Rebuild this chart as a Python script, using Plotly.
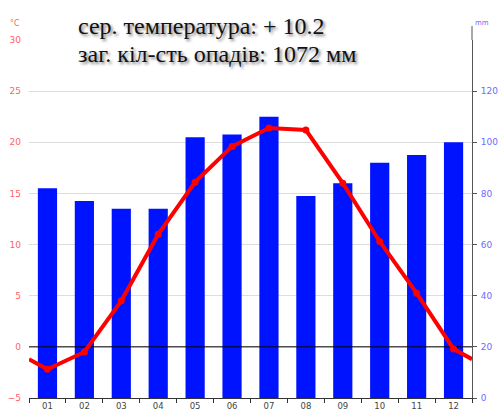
import plotly.graph_objects as go

months = ["01", "02", "03", "04", "05", "06", "07", "08", "09", "10", "11", "12"]
month_pos = list(range(1, 13))
precip_mm = [82, 77, 74, 74, 102, 103, 110, 79, 84, 92, 95, 100]
temp_c = [-2.2, -0.5, 4.5, 11.0, 16.1, 19.6, 21.4, 21.2, 16.0, 10.3, 5.25, -0.2]
temp_ticks = [-5, 0, 5, 10, 15, 20, 25, 30]
precip_ticks = [0, 20, 40, 60, 80, 100, 120]
title_line1 = "сер. температура: + 10.2"
title_line2 = "заг. кіл-сть опадів: 1072 мм"

x_range = [0.5, 12.5]
# line continues to the chart edges at the Dec/Jan midpoint
edge_val = (temp_c[0] + temp_c[-1]) / 2
line_x = [x_range[0]] + month_pos + [x_range[1]]
line_y = [edge_val] + temp_c + [edge_val]

fig = go.Figure()
fig.add_trace(go.Bar(x=month_pos, y=precip_mm, marker=dict(color="#0013ff", line=dict(width=0)),
                     width=0.52, yaxis="y", showlegend=False))
fig.add_trace(go.Scatter(x=x_range, y=[0, 0], mode="lines", line=dict(color="#000000", width=1),
                         yaxis="y2", showlegend=False, hoverinfo="skip"))
fig.add_trace(go.Scatter(x=line_x, y=line_y, mode="lines", line=dict(color="#ff0000", width=4),
                         yaxis="y2", showlegend=False))
fig.add_trace(go.Scatter(x=month_pos, y=temp_c, mode="markers", marker=dict(color="#ff0000", size=7),
                         yaxis="y2", showlegend=False))

title_font = dict(family="Liberation Serif", size=24, color="#111",
                  shadow="2px 2px 3px rgba(0,0,0,0.5)")

fig.update_layout(
    width=500, height=414,
    margin=dict(l=29, r=28, t=40, b=16),
    paper_bgcolor="white", plot_bgcolor="white",
    font=dict(family="DejaVu Sans", size=9),
    xaxis=dict(range=x_range, tickvals=month_pos, ticktext=months, ticks="",
               showgrid=False, zeroline=False, showline=True, linecolor="#333", linewidth=1,
               tickfont=dict(color="#444", size=8.5), automargin=False, ticklabelstandoff=0,
               minor=dict(tickvals=[p - 0.5 for p in month_pos] + [month_pos[-1] + 0.5],
                          ticks="outside", ticklen=4, tickcolor="#333", showgrid=False)),
    yaxis=dict(range=[0, 140], side="right", tickvals=precip_ticks, showgrid=False, zeroline=False,
               showline=True, linecolor="#555", linewidth=1, ticks="outside", ticklen=4, tickcolor="#555",
               tickfont=dict(color="#6b6bff", size=9), automargin=False, ticklabelstandoff=2),
    yaxis2=dict(range=[-5, 30], overlaying="y", side="left", tickvals=temp_ticks, showgrid=True,
                gridcolor="#dddddd", gridwidth=1, zeroline=False, showline=False, ticks="",
                tickfont=dict(color="#ff5f6a", size=9), automargin=False, ticklabelstandoff=7),
    shapes=[dict(type="line", xref="paper", yref="paper", x0=1, x1=1, y0=1, y1=1.039,
                 line=dict(color="#555", width=1))],
    annotations=[
        dict(text="°C", xref="paper", yref="paper", x=-0.032, y=1.047, showarrow=False,
             font=dict(color="#ff5f6a", size=8), xanchor="center", yanchor="middle"),
        dict(text="mm", xref="paper", yref="paper", x=1.022, y=1.047, showarrow=False,
             font=dict(color="#6b6bff", size=7), xanchor="center", yanchor="middle"),
        dict(text=title_line1, xref="paper", yref="paper", x=0.106, y=1.038, showarrow=False,
             xanchor="left", yanchor="middle", font=title_font),
        dict(text=title_line2, xref="paper", yref="paper", x=0.106, y=0.960, showarrow=False,
             xanchor="left", yanchor="middle", font=title_font),
    ],
)

fig.write_html("out.html", config={"displayModeBar": False},
               post_script="document.body.style.margin='0';document.body.style.overflow='hidden';")
